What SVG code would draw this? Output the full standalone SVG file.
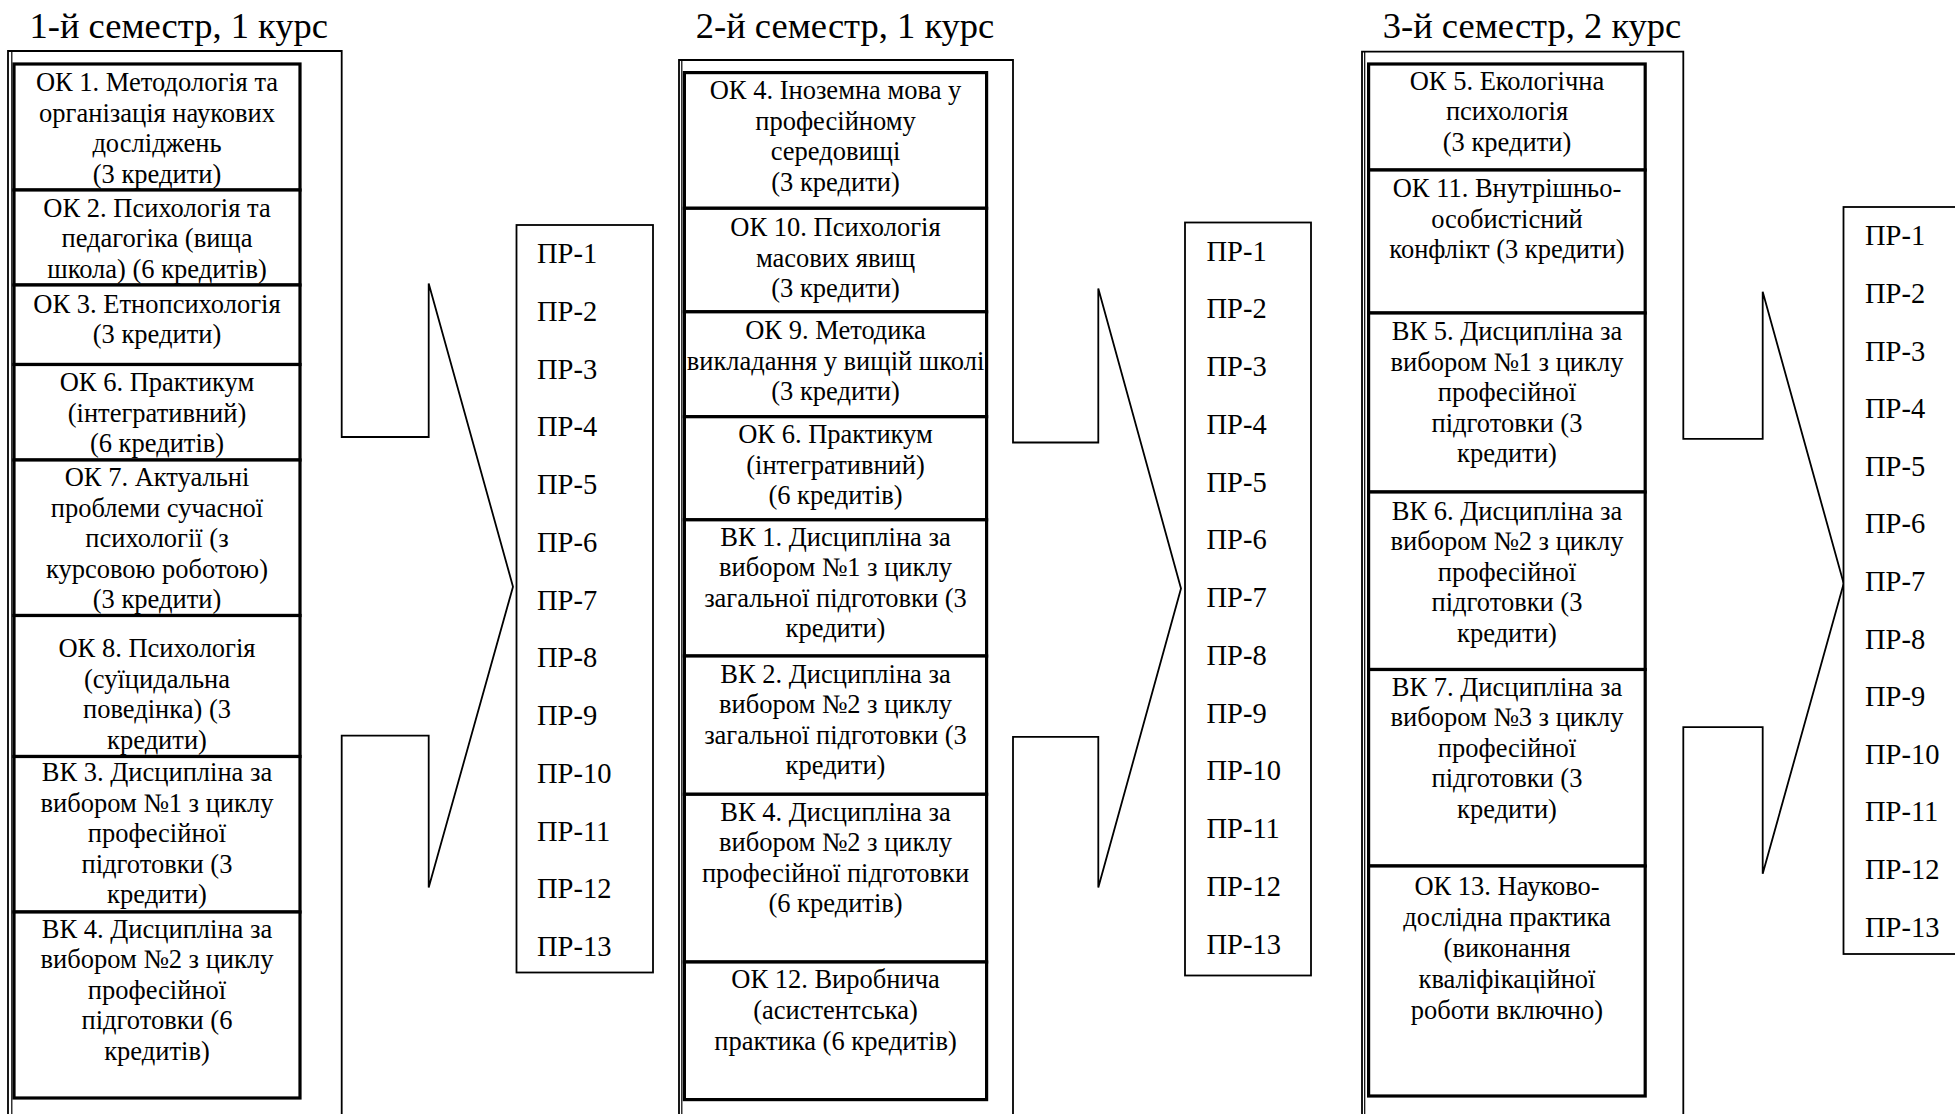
<svg xmlns="http://www.w3.org/2000/svg" width="1955" height="1114" viewBox="0 0 1955 1114">
<style>
.title{font-family:"Liberation Serif","Times New Roman",serif;font-size:36.5px;fill:#000}
.t{font-family:"Liberation Serif","Times New Roman",serif;font-size:26.5px;fill:#000;text-anchor:middle}
.pr{font-family:"Liberation Serif","Times New Roman",serif;font-size:28.5px;fill:#000}
.item{fill:#fff;stroke:#000;stroke-width:3.2}
.prbox{fill:#fff;stroke:#000;stroke-width:1.8}
.call{fill:none;stroke:#000;stroke-width:1.8;stroke-linejoin:miter}
.thin{fill:none;stroke:#000;stroke-width:1.2}
</style>
<rect width="1955" height="1114" fill="#fff"/>
<text class="title" x="29.5" y="38">1-й семестр, 1 курс</text>
<text class="title" x="695.8" y="38">2-й семестр, 1 курс</text>
<text class="title" x="1382.8" y="38">3-й семестр, 2 курс</text>

<g id="connectors">
<path class="call" d="M341.7 1120 V735.6 H428.7 V887.6 L513 586.7 L428.7 283.5 V437 H341.7 V51 H8 V1120"/>
<line class="thin" x1="11.8" y1="51" x2="11.8" y2="1120"/>
<path class="call" d="M1013 1120 V736.8 H1098.3 V887.6 L1181 588.5 L1098.3 288.4 V442.5 H1013 V60 H679 V1120"/>
<line class="thin" x1="681.8" y1="60" x2="681.8" y2="1120"/>
<path class="call" d="M1683.3 1120 V727.2 H1762.7 V873.8 L1843.7 583.5 L1762.7 291.8 V438.8 H1683.3 V51.6 H1362 V1120"/>
<line class="thin" x1="1364.7" y1="51.6" x2="1364.7" y2="1120"/>
</g>

<!-- Column 1 -->
<g id="s1-ok1"><rect class="item" x="14" y="64" width="286" height="126"/><text class="t" y="91"><tspan x="157">ОК 1. Методологія та</tspan><tspan x="157" dy="30.5">організація наукових</tspan><tspan x="157" dy="30.5">досліджень</tspan><tspan x="157" dy="30.5">(3 кредити)</tspan></text></g>
<g id="s1-ok2"><rect class="item" x="14" y="190" width="286" height="95"/><text class="t" y="216.5"><tspan x="157">ОК 2. Психологія та</tspan><tspan x="157" dy="30.5">педагогіка (вища</tspan><tspan x="157" dy="30.5">школа) (6 кредитів)</tspan></text></g>
<g id="s1-ok3"><rect class="item" x="14" y="285" width="286" height="79.5"/><text class="t" y="312.5"><tspan x="157">ОК 3. Етнопсихологія</tspan><tspan x="157" dy="30.5">(3 кредити)</tspan></text></g>
<g id="s1-ok6"><rect class="item" x="14" y="364.5" width="286" height="95.5"/><text class="t" y="391"><tspan x="157">ОК 6. Практикум</tspan><tspan x="157" dy="30.5">(інтегративний)</tspan><tspan x="157" dy="30.5">(6 кредитів)</tspan></text></g>
<g id="s1-ok7"><rect class="item" x="14" y="460" width="286" height="155.5"/><text class="t" y="486"><tspan x="157">ОК 7. Актуальні</tspan><tspan x="157" dy="30.5">проблеми сучасної</tspan><tspan x="157" dy="30.5">психології (з</tspan><tspan x="157" dy="30.5">курсовою роботою)</tspan><tspan x="157" dy="30.5">(3 кредити)</tspan></text></g>
<g id="s1-ok8"><rect class="item" x="14" y="615.5" width="286" height="141"/><text class="t" y="657.3"><tspan x="157">ОК 8. Психологія</tspan><tspan x="157" dy="30.5">(суїцидальна</tspan><tspan x="157" dy="30.5">поведінка) (3</tspan><tspan x="157" dy="30.5">кредити)</tspan></text></g>
<g id="s1-vk3"><rect class="item" x="14" y="756.5" width="286" height="155.5"/><text class="t" y="781"><tspan x="157">ВК 3. Дисципліна за</tspan><tspan x="157" dy="30.5">вибором №1 з циклу</tspan><tspan x="157" dy="30.5">професійної</tspan><tspan x="157" dy="30.5">підготовки (3</tspan><tspan x="157" dy="30.5">кредити)</tspan></text></g>
<g id="s1-vk4"><rect class="item" x="14" y="912" width="286" height="186"/><text class="t" y="937.5"><tspan x="157">ВК 4. Дисципліна за</tspan><tspan x="157" dy="30.5">вибором №2 з циклу</tspan><tspan x="157" dy="30.5">професійної</tspan><tspan x="157" dy="30.5">підготовки (6</tspan><tspan x="157" dy="30.5">кредитів)</tspan></text></g>
<g id="s1-pr"><rect class="prbox" x="516.5" y="225" width="136.5" height="747.5"/>
<text class="pr" x="537" y="263">ПР-1</text><text class="pr" x="537" y="320.75">ПР-2</text><text class="pr" x="537" y="378.5">ПР-3</text><text class="pr" x="537" y="436.25">ПР-4</text><text class="pr" x="537" y="494">ПР-5</text><text class="pr" x="537" y="551.75">ПР-6</text><text class="pr" x="537" y="609.5">ПР-7</text><text class="pr" x="537" y="667.25">ПР-8</text><text class="pr" x="537" y="725">ПР-9</text><text class="pr" x="537" y="782.75">ПР-10</text><text class="pr" x="537" y="840.5">ПР-11</text><text class="pr" x="537" y="898.25">ПР-12</text><text class="pr" x="537" y="956">ПР-13</text></g>

<!-- Column 2 -->
<g id="s2-ok4"><rect class="item" x="684.4" y="72.6" width="302.2" height="135.7"/><text class="t" y="99.4"><tspan x="835.5">ОК 4. Іноземна мова у</tspan><tspan x="835.5" dy="30.5">професійному</tspan><tspan x="835.5" dy="30.5">середовищі</tspan><tspan x="835.5" dy="30.5">(3 кредити)</tspan></text></g>
<g id="s2-ok10"><rect class="item" x="684.4" y="208.3" width="302.2" height="103.5"/><text class="t" y="236"><tspan x="835.5">ОК 10. Психологія</tspan><tspan x="835.5" dy="30.5">масових явищ</tspan><tspan x="835.5" dy="30.5">(3 кредити)</tspan></text></g>
<g id="s2-ok9"><rect class="item" x="684.4" y="311.8" width="302.2" height="104.9"/><text class="t" y="339"><tspan x="835.5">ОК 9. Методика</tspan><tspan x="835.5" dy="30.5">викладання у вищій школі</tspan><tspan x="835.5" dy="30.5">(3 кредити)</tspan></text></g>
<g id="s2-ok6"><rect class="item" x="684.4" y="416.7" width="302.2" height="103.1"/><text class="t" y="443"><tspan x="835.5">ОК 6. Практикум</tspan><tspan x="835.5" dy="30.5">(інтегративний)</tspan><tspan x="835.5" dy="30.5">(6 кредитів)</tspan></text></g>
<g id="s2-vk1"><rect class="item" x="684.4" y="519.8" width="302.2" height="136.2"/><text class="t" y="545.5"><tspan x="835.5">ВК 1. Дисципліна за</tspan><tspan x="835.5" dy="30.5">вибором №1 з циклу</tspan><tspan x="835.5" dy="30.5">загальної підготовки (3</tspan><tspan x="835.5" dy="30.5">кредити)</tspan></text></g>
<g id="s2-vk2"><rect class="item" x="684.4" y="656" width="302.2" height="138.3"/><text class="t" y="682.5"><tspan x="835.5">ВК 2. Дисципліна за</tspan><tspan x="835.5" dy="30.5">вибором №2 з циклу</tspan><tspan x="835.5" dy="30.5">загальної підготовки (3</tspan><tspan x="835.5" dy="30.5">кредити)</tspan></text></g>
<g id="s2-vk4"><rect class="item" x="684.4" y="794.3" width="302.2" height="167.7"/><text class="t" y="820.7"><tspan x="835.5">ВК 4. Дисципліна за</tspan><tspan x="835.5" dy="30.5">вибором №2 з циклу</tspan><tspan x="835.5" dy="30.5">професійної підготовки</tspan><tspan x="835.5" dy="30.5">(6 кредитів)</tspan></text></g>
<g id="s2-ok12"><rect class="item" x="684.4" y="962" width="302.2" height="137.6"/><text class="t" y="987.7"><tspan x="835.5">ОК 12. Виробнича</tspan><tspan x="835.5" dy="31">(асистентська)</tspan><tspan x="835.5" dy="31">практика (6 кредитів)</tspan></text></g>
<g id="s2-pr"><rect class="prbox" x="1185" y="222.5" width="126" height="753"/>
<text class="pr" x="1206.5" y="260.6">ПР-1</text><text class="pr" x="1206.5" y="318.35">ПР-2</text><text class="pr" x="1206.5" y="376.1">ПР-3</text><text class="pr" x="1206.5" y="433.85">ПР-4</text><text class="pr" x="1206.5" y="491.6">ПР-5</text><text class="pr" x="1206.5" y="549.35">ПР-6</text><text class="pr" x="1206.5" y="607.1">ПР-7</text><text class="pr" x="1206.5" y="664.85">ПР-8</text><text class="pr" x="1206.5" y="722.6">ПР-9</text><text class="pr" x="1206.5" y="780.35">ПР-10</text><text class="pr" x="1206.5" y="838.1">ПР-11</text><text class="pr" x="1206.5" y="895.85">ПР-12</text><text class="pr" x="1206.5" y="953.6">ПР-13</text></g>

<!-- Column 3 -->
<g id="s3-ok5"><rect class="item" x="1368.6" y="64" width="276.6" height="106"/><text class="t" y="89.5"><tspan x="1507">ОК 5. Екологічна</tspan><tspan x="1507" dy="30.5">психологія</tspan><tspan x="1507" dy="30.5">(3 кредити)</tspan></text></g>
<g id="s3-ok11"><rect class="item" x="1368.6" y="170" width="276.6" height="143"/><text class="t" y="197"><tspan x="1507">ОК 11. Внутрішньо-</tspan><tspan x="1507" dy="30.5">особистісний</tspan><tspan x="1507" dy="30.5">конфлікт (3 кредити)</tspan></text></g>
<g id="s3-vk5"><rect class="item" x="1368.6" y="313" width="276.6" height="179"/><text class="t" y="340"><tspan x="1507">ВК 5. Дисципліна за</tspan><tspan x="1507" dy="30.5">вибором №1 з циклу</tspan><tspan x="1507" dy="30.5">професійної</tspan><tspan x="1507" dy="30.5">підготовки (3</tspan><tspan x="1507" dy="30.5">кредити)</tspan></text></g>
<g id="s3-vk6"><rect class="item" x="1368.6" y="492" width="276.6" height="177.5"/><text class="t" y="519.5"><tspan x="1507">ВК 6. Дисципліна за</tspan><tspan x="1507" dy="30.5">вибором №2 з циклу</tspan><tspan x="1507" dy="30.5">професійної</tspan><tspan x="1507" dy="30.5">підготовки (3</tspan><tspan x="1507" dy="30.5">кредити)</tspan></text></g>
<g id="s3-vk7"><rect class="item" x="1368.6" y="669.5" width="276.6" height="196.5"/><text class="t" y="695.5"><tspan x="1507">ВК 7. Дисципліна за</tspan><tspan x="1507" dy="30.5">вибором №3 з циклу</tspan><tspan x="1507" dy="30.5">професійної</tspan><tspan x="1507" dy="30.5">підготовки (3</tspan><tspan x="1507" dy="30.5">кредити)</tspan></text></g>
<g id="s3-ok13"><rect class="item" x="1368.6" y="866" width="276.6" height="230"/><text class="t" y="894.5"><tspan x="1507">ОК 13. Науково-</tspan><tspan x="1507" dy="31">дослідна практика</tspan><tspan x="1507" dy="31">(виконання</tspan><tspan x="1507" dy="31">кваліфікаційної</tspan><tspan x="1507" dy="31">роботи включно)</tspan></text></g>
<g id="s3-pr"><rect class="prbox" x="1843.5" y="207" width="200" height="747"/>
<text class="pr" x="1865" y="245.3">ПР-1</text><text class="pr" x="1865" y="302.9">ПР-2</text><text class="pr" x="1865" y="360.5">ПР-3</text><text class="pr" x="1865" y="418.1">ПР-4</text><text class="pr" x="1865" y="475.7">ПР-5</text><text class="pr" x="1865" y="533.3">ПР-6</text><text class="pr" x="1865" y="590.9">ПР-7</text><text class="pr" x="1865" y="648.5">ПР-8</text><text class="pr" x="1865" y="706.1">ПР-9</text><text class="pr" x="1865" y="763.7">ПР-10</text><text class="pr" x="1865" y="821.3">ПР-11</text><text class="pr" x="1865" y="878.9">ПР-12</text><text class="pr" x="1865" y="936.5">ПР-13</text></g>
</svg>
